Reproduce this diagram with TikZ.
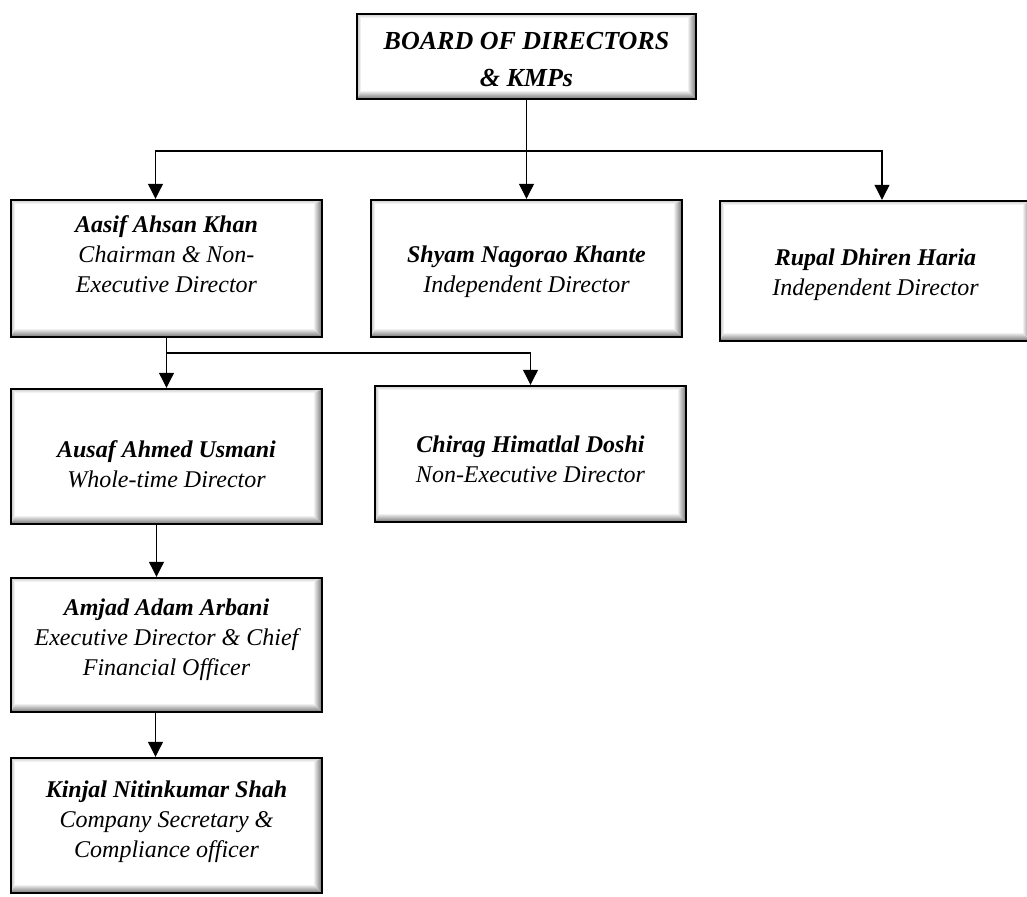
\documentclass[tikz,border=0pt]{standalone}
\usepackage{fontspec}
\setmainfont{Liberation Serif}
\usetikzlibrary{arrows.meta}

\begin{document}
\begin{tikzpicture}[x=1pt,y=-1pt,
  bevel/.style={path picture={
    \coordinate (pnw) at (path picture bounding box.north west);
    \coordinate (pne) at (path picture bounding box.north east);
    \coordinate (psw) at (path picture bounding box.south west);
    \coordinate (pse) at (path picture bounding box.south east);
    \shade[left color=white,right color=black!55] (pne) -- (pse) -- ([shift={(-9pt,9pt)}]pse) -- ([shift={(-9pt,-4pt)}]pne) -- cycle;
    \shade[top color=white,bottom color=black!55] (psw) -- (pse) -- ([shift={(-9pt,9pt)}]pse) -- ([shift={(4pt,9pt)}]psw) -- cycle;
    \shade[top color=black!20,bottom color=white] (pnw) -- (pne) -- ([shift={(-9pt,-4pt)}]pne) -- ([shift={(4pt,-4pt)}]pnw) -- cycle;
    \shade[left color=black!25,right color=white] (pnw) -- (psw) -- ([shift={(4pt,9pt)}]psw) -- ([shift={(4pt,-4pt)}]pnw) -- cycle;
  }},
  box/.style={draw,line width=2.4pt,fill=white,bevel,align=center,minimum width=311pt,minimum height=137pt,font=\fontsize{24}{30}\selectfont\itshape},
  lift/.style={text height=#1,text depth=0pt},
  conn/.style={line width=1.1pt},
  arr/.style={conn,-{Triangle[length=15pt,width=15pt]}}]
\useasboundingbox (0,0) rectangle (1027,896);
% top level
\node[box,minimum width=339pt,minimum height=85pt,font=\fontsize{26}{37}\selectfont\bfseries\itshape,lift=61pt] (board) at (526.5,56.5) {BOARD OF DIRECTORS\\\& KMPs};
% directors
\node[box,lift=47pt] (aasif) at (166.5,268.5) {\textbf{Aasif Ahsan Khan}\\Chairman \& Non-\\Executive Director};
\node[box,lift=47pt] (shyam) at (526.5,268.5) {\textbf{Shyam Nagorao Khante}\\Independent Director};
\node[box,minimum height=140pt,lift=48pt] (rupal) at (875.5,271) {\textbf{Rupal Dhiren Haria}\\Independent Director};
\node[box,minimum height=135pt,lift=61pt] (ausaf) at (166.5,456.5) {\textbf{Ausaf Ahmed Usmani}\\Whole-time Director};
\node[box,minimum height=136pt,lift=56pt] (chirag) at (530.5,454) {\textbf{Chirag Himatlal Doshi}\\Non-Executive Director};
% KMPs
\node[box,minimum height=134pt,lift=60pt] (amjad) at (166.5,645) {\textbf{Amjad Adam Arbani}\\Executive Director \& Chief\\Financial Officer};
\node[box,minimum height=135pt,lift=63pt] (kinjal) at (166.5,825.5) {\textbf{Kinjal Nitinkumar Shah}\\Company Secretary \&\\Compliance officer};
% connectors
\coordinate (bus top) at (526.5,151);
\coordinate (bus mid) at (166.5,353);
\draw[conn] (board.south) -- (bus top);
\draw[arr] (bus top) -| ([xshift=-11pt]aasif.north);
\draw[arr] (bus top) -- (shyam.north);
\draw[arr] (bus top) -| ([xshift=6.5pt]rupal.north);
\draw[conn] (aasif.south) -- (bus mid);
\draw[arr] (bus mid) -- (ausaf.north);
\draw[arr] (bus mid) -| (chirag.north);
\draw[arr] ([xshift=-10pt]ausaf.south) -- ([xshift=-10pt]amjad.north);
\draw[arr] ([xshift=-11pt]amjad.south) -- ([xshift=-11pt]kinjal.north);
\end{tikzpicture}
\end{document}
